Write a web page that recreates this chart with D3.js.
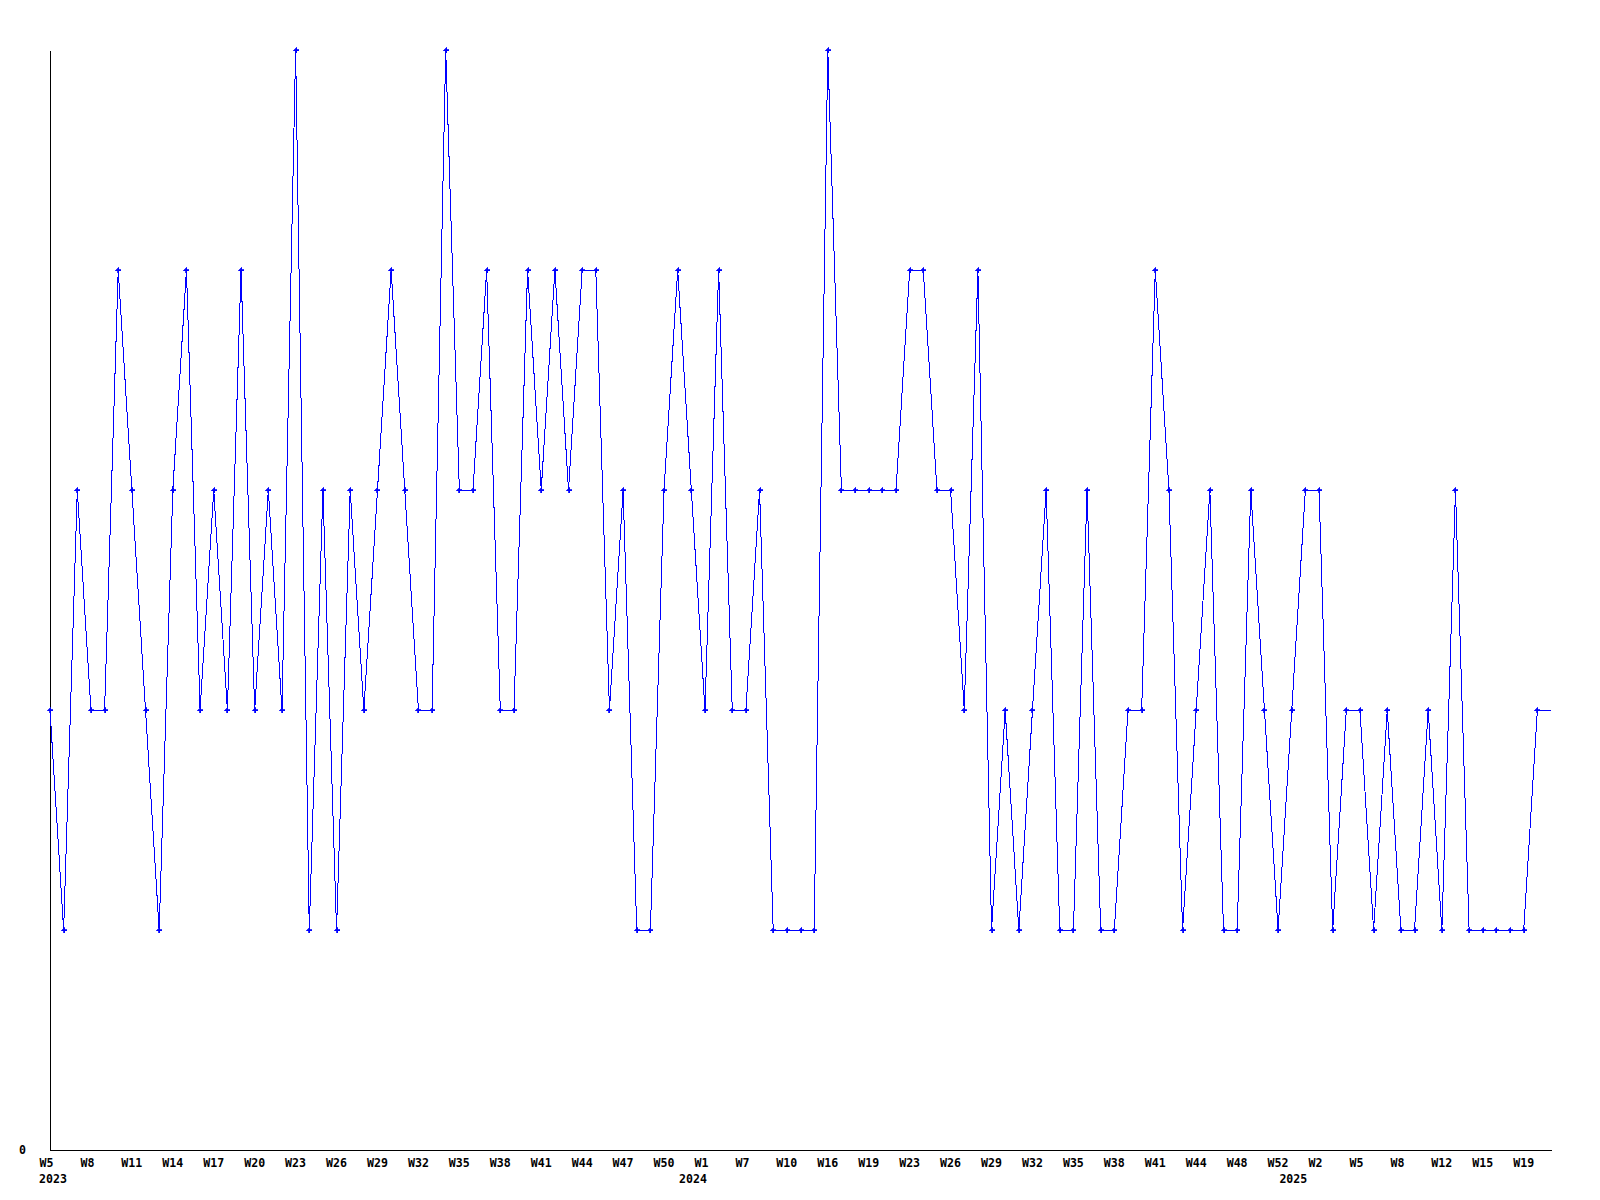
<!DOCTYPE html>
<html>
<head>
<meta charset="utf-8">
<script src="https://cdn.jsdelivr.net/npm/d3@7"></script>
<style>
  html, body { margin: 0; padding: 0; background: #fff; }
  svg { display: block; }
  text { font-family: "DejaVu Sans Mono", "Liberation Mono", monospace; font-weight: bold; font-size: 11.6px; fill: #000; }
</style>
</head>
<body>
<script>
// Weekly values, one per point (last value is the open week, drawn without a marker)
const values = [
  2,1,3,2,2,4,3,2,1,3,
  4,2,3,2,4,2,3,2,5,1,
  3,1,3,2,3,4,3,2,2,5,
  3,3,4,2,2,4,3,4,3,4,
  4,2,3,1,1,3,4,3,2,4,
  2,2,3,1,1,1,1,5,3,3,
  3,3,3,4,4,3,3,2,4,1,
  2,1,2,3,1,1,3,1,1,2,
  2,4,3,1,2,3,1,1,3,2,
  1,2,3,3,1,2,2,1,2,1,
  1,2,1,3,1,1,1,1,1,2,
  2
];
// Week tick labels, every third point
const tickLabels = ["W5","W8","W11","W14","W17","W20","W23","W26","W29","W32","W35","W38",
  "W41","W44","W47","W50","W1","W7","W10","W16","W19","W23","W26","W29","W32","W35",
  "W38","W41","W44","W48","W52","W2","W5","W8","W12","W15","W19"];
const tickEvery = 3;
// Year labels and the point index they belong to
const yearLabels = ["2023","2024","2025"];
const yearIndex = [0, 48, 92];
const yTicks = [0];
const yMax = 5;

const W = 1600, H = 1200;
const mLeft = 50, mRight = 1551, mTop = 50, mBottom = 1150;

const svg = d3.select("body").append("svg").attr("width", W).attr("height", H);
svg.append("rect").attr("width", W).attr("height", H).attr("fill", "#fff");

const x = d3.scaleLinear().domain([0, values.length - 1]).range([mLeft, mRight]);
const y = d3.scaleLinear().domain([0, yMax]).range([mBottom, mTop]);

// X axis
const tickIdx = tickLabels.map((_, k) => k * tickEvery);
const xAxis = d3.axisBottom(x)
  .tickValues(tickIdx)
  .tickFormat((d, k) => tickLabels[k])
  .tickSize(0).tickSizeOuter(0);
const gx = svg.append("g").attr("transform", `translate(0,${mBottom})`).call(xAxis);
gx.attr("font-family", null).attr("font-size", null);
gx.select(".domain").attr("stroke", "#000").attr("shape-rendering", "crispEdges");
gx.selectAll("text")
  .attr("text-anchor", "start")
  .attr("x", -11)
  .attr("y", 17)
  .attr("dy", 0);

// Year labels
const charW = 7;
svg.append("g").selectAll("text")
  .data(yearLabels)
  .join("text")
  .attr("x", (d, k) => Math.max(x(yearIndex[k]) + 2 - d.length * charW, x(0) - 11))
  .attr("y", mBottom + 32.5)
  .text(d => d);

// Y axis
const yAxis = d3.axisLeft(y).tickValues(yTicks).tickFormat(d3.format("d"))
  .tickSize(0).tickSizeOuter(0).tickPadding(24);
const gy = svg.append("g").attr("transform", `translate(${mLeft},0)`).call(yAxis);
gy.attr("font-family", null).attr("font-size", null);
gy.select(".domain").attr("stroke", "#000").attr("shape-rendering", "crispEdges");
gy.selectAll("text").attr("dy", "0.33em");

// Line
const line = d3.line().x((d, i) => x(i)).y(d => y(d));
svg.append("path")
  .datum(values)
  .attr("d", line)
  .attr("fill", "none")
  .attr("stroke", "#0000ff")
  .attr("stroke-width", 1)
  .attr("shape-rendering", "crispEdges");

// Markers (all closed weeks)
const marked = values.slice(0, values.length - 1);
svg.append("g").selectAll("path")
  .data(marked)
  .join("path")
  .attr("transform", (d, i) => `translate(${Math.round(x(i))},${Math.round(y(d))})`)
  .attr("d", "M-2.5,-0.5H-0.5V-2.5H0.5V-0.5H2.5V0.5H0.5V2.5H-0.5V0.5H-2.5Z")
  .attr("fill", "#0000ff")
  .attr("stroke", "#0000ff")
  .attr("stroke-width", 0.8)
  .attr("shape-rendering", "crispEdges");
</script>
</body>
</html>
